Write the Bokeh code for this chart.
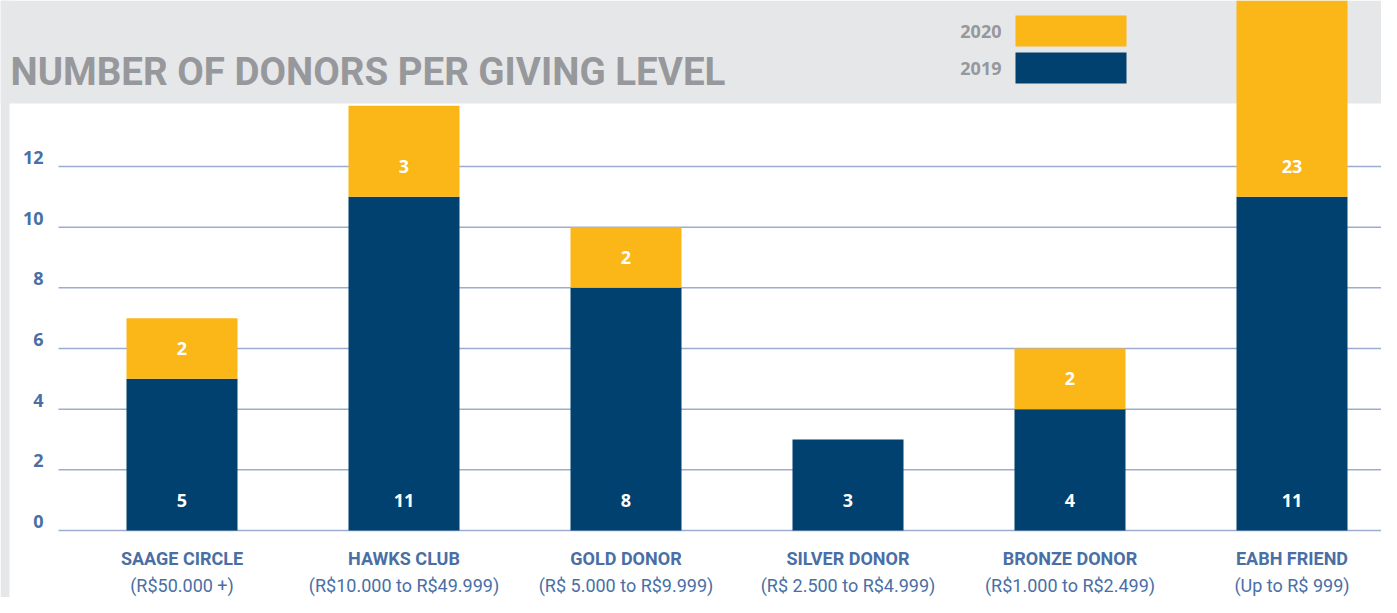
from bokeh.plotting import figure
from bokeh.models import Range1d, BoxAnnotation
from bokeh.core.properties import value
from bokeh.embed import file_html
from bokeh.resources import INLINE

# ---- data ----
categories = ["SAAGE CIRCLE", "HAWKS CLUB", "GOLD DONOR", "SILVER DONOR", "BRONZE DONOR", "EABH FRIEND"]
ranges_txt = ["(R$50.000 +)", "(R$10.000 to R$49.999)", "(R$ 5.000 to R$9.999)",
              "(R$ 2.500 to R$4.999)", "(R$1.000 to R$2.499)", "(Up to R$ 999)"]
donors_2019 = [5, 11, 8, 3, 4, 11]
donors_2020 = [2, 3, 2, 0, 2, 23]
y_ticks = [0, 2, 4, 6, 8, 10, 12]

# ---- layout helpers (reference pixel -> data) ----
W, H = 1381, 597
PX_X = 222.0           # pixels per category
PX_Y = 364.0 / 12.0    # pixels per unit
def xd(px):
    return (px - 181.5) / PX_X
def yd(py):
    return (530 - py) / PX_Y

NAVY = "#00416f"
GOLD = "#fbb617"
GRAY_BG = "#e6e7e9"
TITLE_GRAY = "#97989b"
BLUE_TXT = "#4a6fa5"
GRID = "#9dadd1"

p = figure(width=W, height=H, output_backend="svg", toolbar_location=None,
           x_range=Range1d(xd(0), xd(W)), y_range=Range1d(yd(H), yd(0)),
           min_border=0, outline_line_color=None, background_fill_color="white",
           border_fill_color="white")
p.axis.visible = False
p.grid.visible = False

# header band and left strip
p.add_layout(BoxAnnotation(bottom=yd(103), fill_color=GRAY_BG, fill_alpha=1,
                           line_color=None, level="underlay"))
p.add_layout(BoxAnnotation(right=xd(9), fill_color=GRAY_BG, fill_alpha=1,
                           line_color=None, level="underlay"))

# gridlines
xs = list(range(len(categories)))
p.segment(x0=[xd(58)] * len(y_ticks), x1=[xd(1400)] * len(y_ticks), y0=y_ticks, y1=y_ticks,
          line_color=GRID, line_width=1.5)
p.text(x=[xd(43)] * len(y_ticks), y=y_ticks, text=[str(t) for t in y_ticks],
       text_align="right", text_baseline="middle", y_offset=-9,
       text_font=value("Open Sans"), text_font_style="bold", text_font_size="18px",
       text_color=BLUE_TXT)

# bars
top19 = donors_2019
top20 = [a + b for a, b in zip(donors_2019, donors_2020)]
p.vbar(x=xs, width=0.5, bottom=0, top=top19, fill_color=NAVY, line_color=None)
p.vbar(x=xs, width=0.5, bottom=top19, top=top20, fill_color=GOLD, line_color=None)

# value labels
p.text(x=xs, y=[1] * len(xs), text=[str(v) for v in donors_2019],
       text_align="center", text_baseline="middle",
       text_font=value("Open Sans"), text_font_style="bold", text_font_size="18px",
       text_color="white")
idx20 = [i for i, v in enumerate(donors_2020) if v > 0]
p.text(x=idx20, y=[donors_2019[i] + 1 for i in idx20], text=[str(donors_2020[i]) for i in idx20],
       text_align="center", text_baseline="middle",
       text_font=value("Open Sans"), text_font_style="bold", text_font_size="18px",
       text_color="white")

# category labels
p.text(x=xs, y=[yd(558)] * len(xs), text=categories, text_align="center", text_baseline="middle",
       text_font=value("Roboto"), text_font_style="bold", text_font_size="18px",
       text_color=BLUE_TXT)
p.text(x=xs, y=[yd(585)] * len(xs), text=ranges_txt, text_align="center", text_baseline="middle",
       text_font=value("Roboto"), text_font_style="normal", text_font_size="18px",
       text_color=BLUE_TXT)

# title
p.text(x=[xd(10)], y=[yd(71)], text=["NUMBER OF DONORS PER GIVING LEVEL"],
       text_align="left", text_baseline="middle",
       text_font=value("Roboto"), text_font_style="bold", text_font_size="38.5px",
       text_color=TITLE_GRAY)

# legend
leg_labels = ["2020", "2019"]
leg_colors = [GOLD, NAVY]
leg_top = [yd(15), yd(52)]
leg_bot = [yd(46), yd(83)]
p.quad(left=[xd(1015)] * 2, right=[xd(1126)] * 2, top=leg_top, bottom=leg_bot,
       fill_color=leg_colors, line_color=None)
p.text(x=[xd(1001)] * 2, y=[yd(31), yd(68)], text=leg_labels,
       text_align="right", text_baseline="middle",
       text_font=value("Open Sans"), text_font_style="bold", text_font_size="18px",
       text_color=TITLE_GRAY)

open("out.html", "w").write(file_html(p, INLINE))
